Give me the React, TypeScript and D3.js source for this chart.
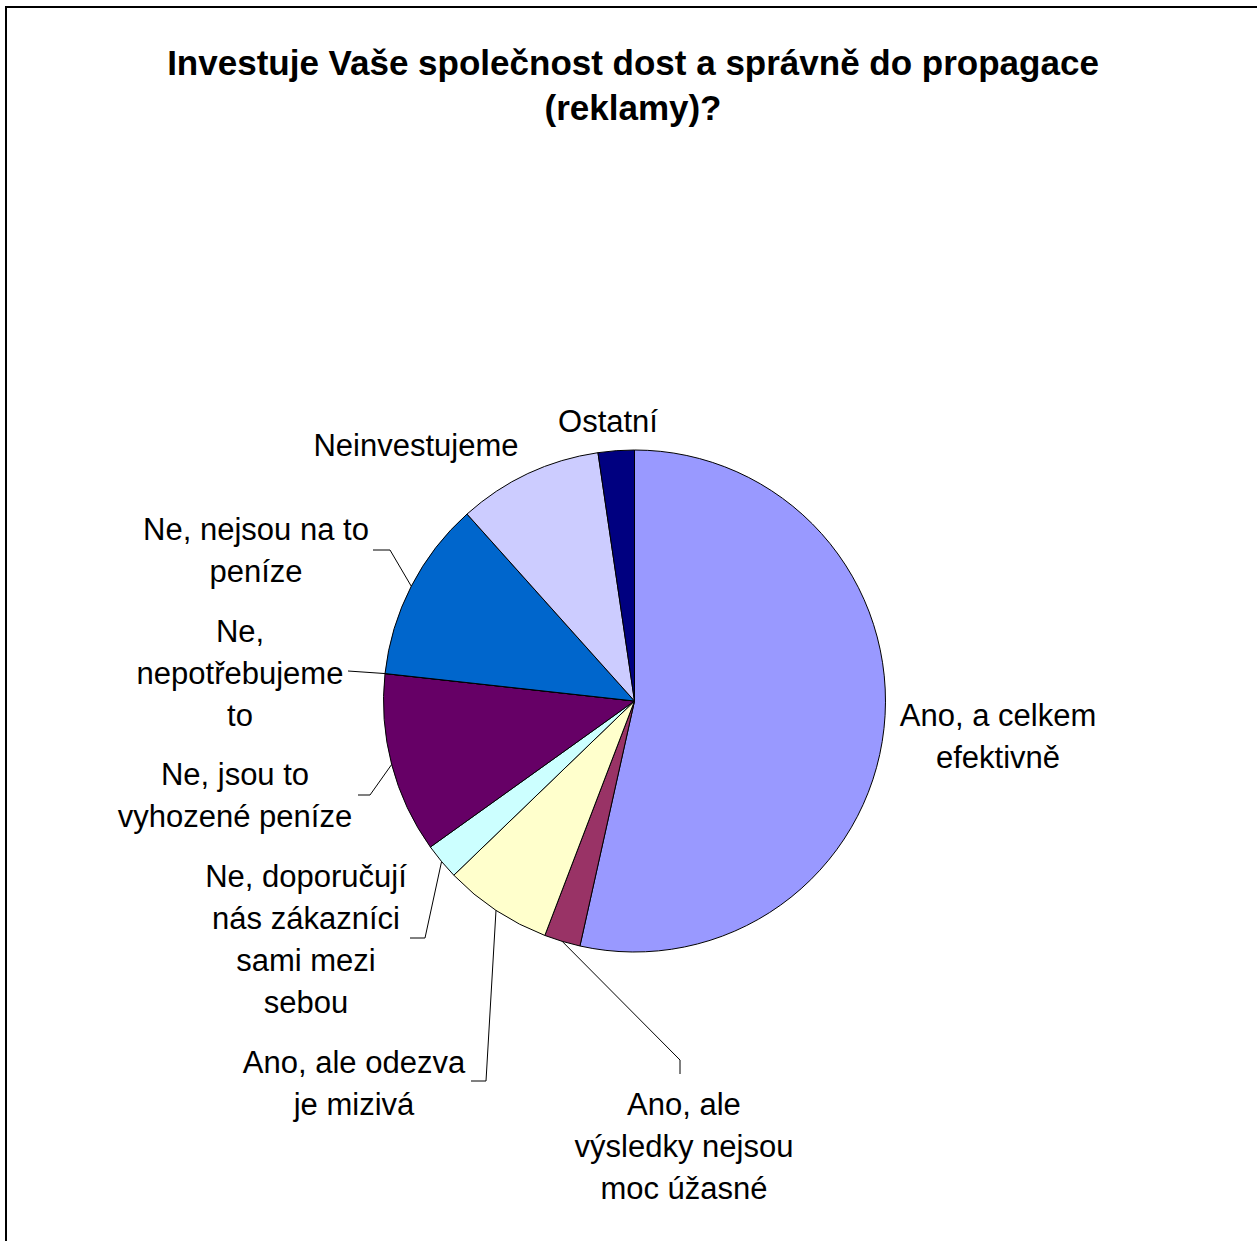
import React from "react";
import * as d3 from "d3";

const categories = [
  "Ano, a celkem efektivně",
  "Ano, ale výsledky nejsou moc úžasné",
  "Ano, ale odezva je mizivá",
  "Ne, doporučují nás zákazníci sami mezi sebou",
  "Ne, jsou to vyhozené peníze",
  "Ne, nepotřebujeme to",
  "Ne, nejsou na to peníze",
  "Neinvestujeme",
  "Ostatní",
];
const values = [23, 1, 3, 1, 5, 0, 5, 4, 1];
const colors = ["#9999FF", "#993366", "#FFFFCC", "#CCFFFF", "#660066", "#FF8080", "#0066CC", "#CCCCFF", "#000080"];
const labelLines = [
  ["Ano, a celkem", "efektivně"],
  ["Ano, ale", "výsledky nejsou", "moc úžasné"],
  ["Ano, ale odezva", "je mizivá"],
  ["Ne, doporučují", "nás zákazníci", "sami mezi", "sebou"],
  ["Ne, jsou to", "vyhozené peníze"],
  ["Ne,", "nepotřebujeme", "to"],
  ["Ne, nejsou na to", "peníze"],
  ["Neinvestujeme"],
  ["Ostatní"],
];
const titleLines = ["Investuje Vaše společnost dost a správně do propagace", "(reklamy)?"];

// layout (positions of manually placed labels and leader-line knees)
const labelAnchor: [number, number][] = [
  [998, 726], [684, 1115], [354, 1073], [306, 887], [235, 785],
  [240, 642], [256, 540], [416, 456], [608, 432],
];
const leaderKnees: ([number, number][] | null)[] = [
  null,
  [[680, 1074], [680, 1060]],
  [[471, 1081], [486, 1081]],
  [[410, 938], [425, 938]],
  [[358, 795], [370, 795]],
  [[348, 671]],
  [[373, 550], [390, 550]],
  null,
  null,
];

const W = 1257, H = 1241;
const CX = 634.5, CY = 701, R = 251;
const FONT = "'Liberation Sans', Arial, sans-serif";

export default function App() {
  const pie = d3.pie<number>().sort(null).value((d) => d);
  const arcs = pie(values);
  const arc = d3.arc<d3.PieArcDatum<number>>().innerRadius(0).outerRadius(R);
  const edge = d3.arc<d3.PieArcDatum<number>>().innerRadius(R).outerRadius(R);
  const line = d3.line();

  return (
    <div style={{ position: "fixed", left: 0, top: 0 }}>
      <svg width={W} height={H} style={{ display: "block", background: "#fff" }}>
        <rect x={6} y={7} width={1400} height={1400} fill="#fff" stroke="#000" strokeWidth={2} />
        {titleLines.map((t, i) => (
          <text key={i} x={633} y={75 + i * 45} textAnchor="middle" fontFamily={FONT}
            fontWeight="bold" fontSize={35} fill="#000">{t}</text>
        ))}
        <g transform={`translate(${CX},${CY})`}>
          {arcs.map((a, i) => (
            <path key={i} d={arc(a) || ""} fill={colors[i]} stroke="#000" strokeWidth={1} />
          ))}
        </g>
        {arcs.map((a, i) => {
          const knees = leaderKnees[i];
          if (!knees) return null;
          const [ex, ey] = edge.centroid(a);
          const pts: [number, number][] = [...knees, [CX + ex, CY + ey]];
          return <path key={i} d={line(pts) || ""} fill="none" stroke="#000" strokeWidth={1} />;
        })}
        {categories.map((c, i) => (
          <text key={c} fontFamily={FONT} fontSize={31} textAnchor="middle" fill="#000">
            {labelLines[i].map((l, j) => (
              <tspan key={j} x={labelAnchor[i][0]} y={labelAnchor[i][1] + j * 42}>{l}</tspan>
            ))}
          </text>
        ))}
      </svg>
    </div>
  );
}
